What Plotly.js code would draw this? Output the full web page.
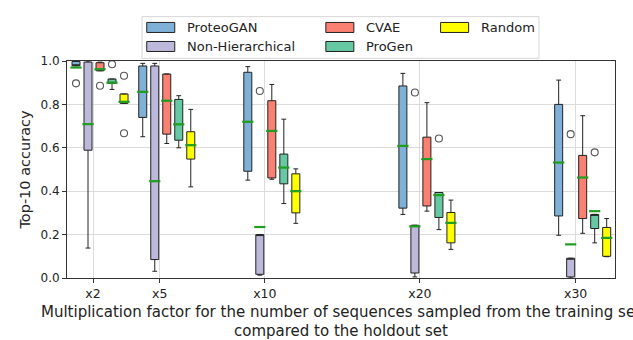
<!DOCTYPE html>
<html>
<head>
<meta charset="utf-8">
<script src="https://cdn.plot.ly/plotly-3.0.1.min.js"></script>
<style>html,body{margin:0;padding:0;background:#fff;overflow:hidden;}#chart{width:633px;height:340px;}</style>
</head>
<body>
<div id="chart"></div>
<script>
// ---- data ----
const categories = ['x2', 'x5', 'x10', 'x20', 'x30'];
const methods = ['ProteoGAN', 'Non-Hierarchical', 'CVAE', 'ProGen', 'Random'];

const proteoganQ1   = [0.978, 0.740, 0.492, 0.322, 0.286];
const proteoganQ3   = [0.998, 0.977, 0.948, 0.885, 0.800];
const proteoganLo   = [0.978, 0.651, 0.451, 0.293, 0.197];
const proteoganHi   = [1.000, 0.989, 0.974, 0.943, 0.912];
const proteoganMean = [0.970, 0.858, 0.720, 0.609, 0.532];
const proteoganOutCat = ['x2'];
const proteoganOutVal = [0.897];

const nonhierQ1   = [0.589, 0.085, 0.017, 0.023, 0.005];
const nonhierQ3   = [0.995, 0.977, 0.200, 0.243, 0.091];
const nonhierLo   = [0.138, 0.031, 0.013, 0.005, 0.000];
const nonhierHi   = [1.000, 0.989, 0.200, 0.243, 0.091];
const nonhierMean = [0.709, 0.446, 0.235, 0.238, 0.155];
const nonhierOutCat = ['x10', 'x20', 'x30'];
const nonhierOutVal = [0.862, 0.855, 0.663];

const cvaeQ1   = [0.955, 0.663, 0.461, 0.332, 0.274];
const cvaeQ3   = [0.992, 0.940, 0.817, 0.649, 0.565];
const cvaeLo   = [0.955, 0.620, 0.455, 0.308, 0.206];
const cvaeHi   = [0.995, 0.940, 0.892, 0.808, 0.748];
const cvaeMean = [0.962, 0.817, 0.678, 0.548, 0.463];
const cvaeOutCat = ['x2'];
const cvaeOutVal = [0.886];

const progenQ1   = [0.897, 0.635, 0.434, 0.279, 0.228];
const progenQ3   = [0.917, 0.823, 0.571, 0.394, 0.293];
const progenLo   = [0.869, 0.600, 0.343, 0.223, 0.162];
const progenHi   = [0.917, 0.840, 0.732, 0.394, 0.293];
const progenMean = [0.900, 0.708, 0.509, 0.382, 0.308];
const progenOutCat = ['x2', 'x20', 'x30'];
const progenOutVal = [0.985, 0.643, 0.579];

const randomQ1   = [0.805, 0.548, 0.300, 0.162, 0.100];
const randomQ3   = [0.848, 0.674, 0.480, 0.302, 0.233];
const randomLo   = [0.805, 0.420, 0.252, 0.132, 0.098];
const randomHi   = [0.848, 0.777, 0.503, 0.359, 0.274];
const randomMean = [0.812, 0.612, 0.400, 0.254, 0.185];
const randomOutCat = ['x2', 'x2'];
const randomOutVal = [0.932, 0.667];

// ---- layout helpers (positions / styles) ----
const tickPos = [0.26, 0.927, 1.977, 3.527, 5.084];
const offsets = [-0.17, -0.05, 0.07, 0.19, 0.31];
const boxWidth = 0.08;
const colors = ['#7fb1d6', '#bdb9da', '#fa8072', '#66c9a3', '#ffff00'];

const series = [
  {q1: proteoganQ1, q3: proteoganQ3, lo: proteoganLo, hi: proteoganHi, mean: proteoganMean, oc: proteoganOutCat, ov: proteoganOutVal},
  {q1: nonhierQ1, q3: nonhierQ3, lo: nonhierLo, hi: nonhierHi, mean: nonhierMean, oc: nonhierOutCat, ov: nonhierOutVal},
  {q1: cvaeQ1, q3: cvaeQ3, lo: cvaeLo, hi: cvaeHi, mean: cvaeMean, oc: cvaeOutCat, ov: cvaeOutVal},
  {q1: progenQ1, q3: progenQ3, lo: progenLo, hi: progenHi, mean: progenMean, oc: progenOutCat, ov: progenOutVal},
  {q1: randomQ1, q3: randomQ3, lo: randomLo, hi: randomHi, mean: randomMean, oc: randomOutCat, ov: randomOutVal}
];

const traces = [];
series.forEach((s, i) => {
  const xs = tickPos.map(p => p + offsets[i]);
  const med = s.mean.map((m, k) => Math.min(Math.max(m, s.q1[k]), s.q3[k]));
  traces.push({
    type: 'box', name: methods[i], x: xs,
    q1: s.q1, median: med, q3: s.q3, lowerfence: s.lo, upperfence: s.hi,
    width: boxWidth, whiskerwidth: 0.6, boxpoints: false,
    fillcolor: colors[i], line: {color: '#222', width: 1},
    showlegend: false, hoverinfo: 'skip'
  });
});
series.forEach((s, i) => {
  traces.push({
    type: 'scatter', mode: 'markers', x: tickPos.map(p => p + offsets[i]), y: s.mean,
    marker: {symbol: 'line-ew', size: 8, line: {color: '#1f9e1f', width: 2.2}},
    showlegend: false, hoverinfo: 'skip'
  });
  traces.push({
    type: 'scatter', mode: 'markers',
    x: s.oc.map(c => tickPos[categories.indexOf(c)] + offsets[i]), y: s.ov,
    marker: {symbol: 'circle-open', size: 7, color: '#555', line: {width: 1.1}},
    showlegend: false, hoverinfo: 'skip', cliponaxis: false
  });
});

// legend drawn by hand (3 columns, matplotlib style)
const L = 67.3, R = 615, T = 61, B = 277.7;
const px2x = px => (px - L) / (R - L);
const py2y = py => (B - py) / (B - T);
const shapes = [{
  type: 'rect', xref: 'paper', yref: 'paper',
  x0: px2x(142.3), x1: px2x(539), y0: py2y(58.3), y1: py2y(16.7),
  fillcolor: 'rgba(255,255,255,0.85)', line: {color: '#d6d6d6', width: 1}, layer: 'above'
}];
const annotations = [];
const legendCols = [147, 147, 326, 326, 440.7];
const legendRows = [27.5, 46.5, 27.5, 46.5, 27.5];
methods.forEach((m, i) => {
  const cx = legendCols[i], cy = legendRows[i];
  shapes.push({
    type: 'rect', xref: 'paper', yref: 'paper',
    x0: px2x(cx), x1: px2x(cx + 28), y0: py2y(cy + 5), y1: py2y(cy - 5),
    fillcolor: colors[i], line: {color: '#222', width: 1}, layer: 'above'
  });
  annotations.push({
    xref: 'paper', yref: 'paper', x: px2x(cx + 38.5), y: py2y(cy),
    xanchor: 'left', yanchor: 'middle', showarrow: false,
    text: m, font: {size: 13, color: '#222'}
  });
});

const layout = {
  width: 633, height: 340,
  margin: {l: 67.3, r: 18, t: 61, b: 62.3},
  paper_bgcolor: '#fff', plot_bgcolor: '#fff',
  font: {family: 'DejaVu Sans', size: 12, color: '#222'},
  showlegend: false,
  boxmode: 'overlay',
  xaxis: {
    range: [0, 5.477], tickvals: tickPos, ticktext: categories,
    showgrid: true, gridcolor: '#dcdcdc', gridwidth: 1, zeroline: false,
    showline: true, mirror: true, linecolor: '#333', linewidth: 1,
    ticks: 'outside', ticklen: 4, tickcolor: '#333',
    tickfont: {size: 12.5},
    title: {text: 'Multiplication factor for the number of sequences sampled from the training set<br>compared to the holdout set',
            font: {size: 15}, standoff: 8}
  },
  yaxis: {
    range: [0, 1], dtick: 0.2, tickformat: '.1f',
    showgrid: true, gridcolor: '#dcdcdc', gridwidth: 1, zeroline: false,
    showline: true, mirror: true, linecolor: '#333', linewidth: 1,
    ticks: 'outside', ticklen: 4, tickcolor: '#333',
    tickfont: {size: 12},
    title: {text: 'Top-10 accuracy', font: {size: 14.5}, standoff: 6}
  },
  shapes: shapes,
  annotations: annotations
};

Plotly.newPlot('chart', traces, layout, {displayModeBar: false, staticPlot: true});
</script>
</body>
</html>
